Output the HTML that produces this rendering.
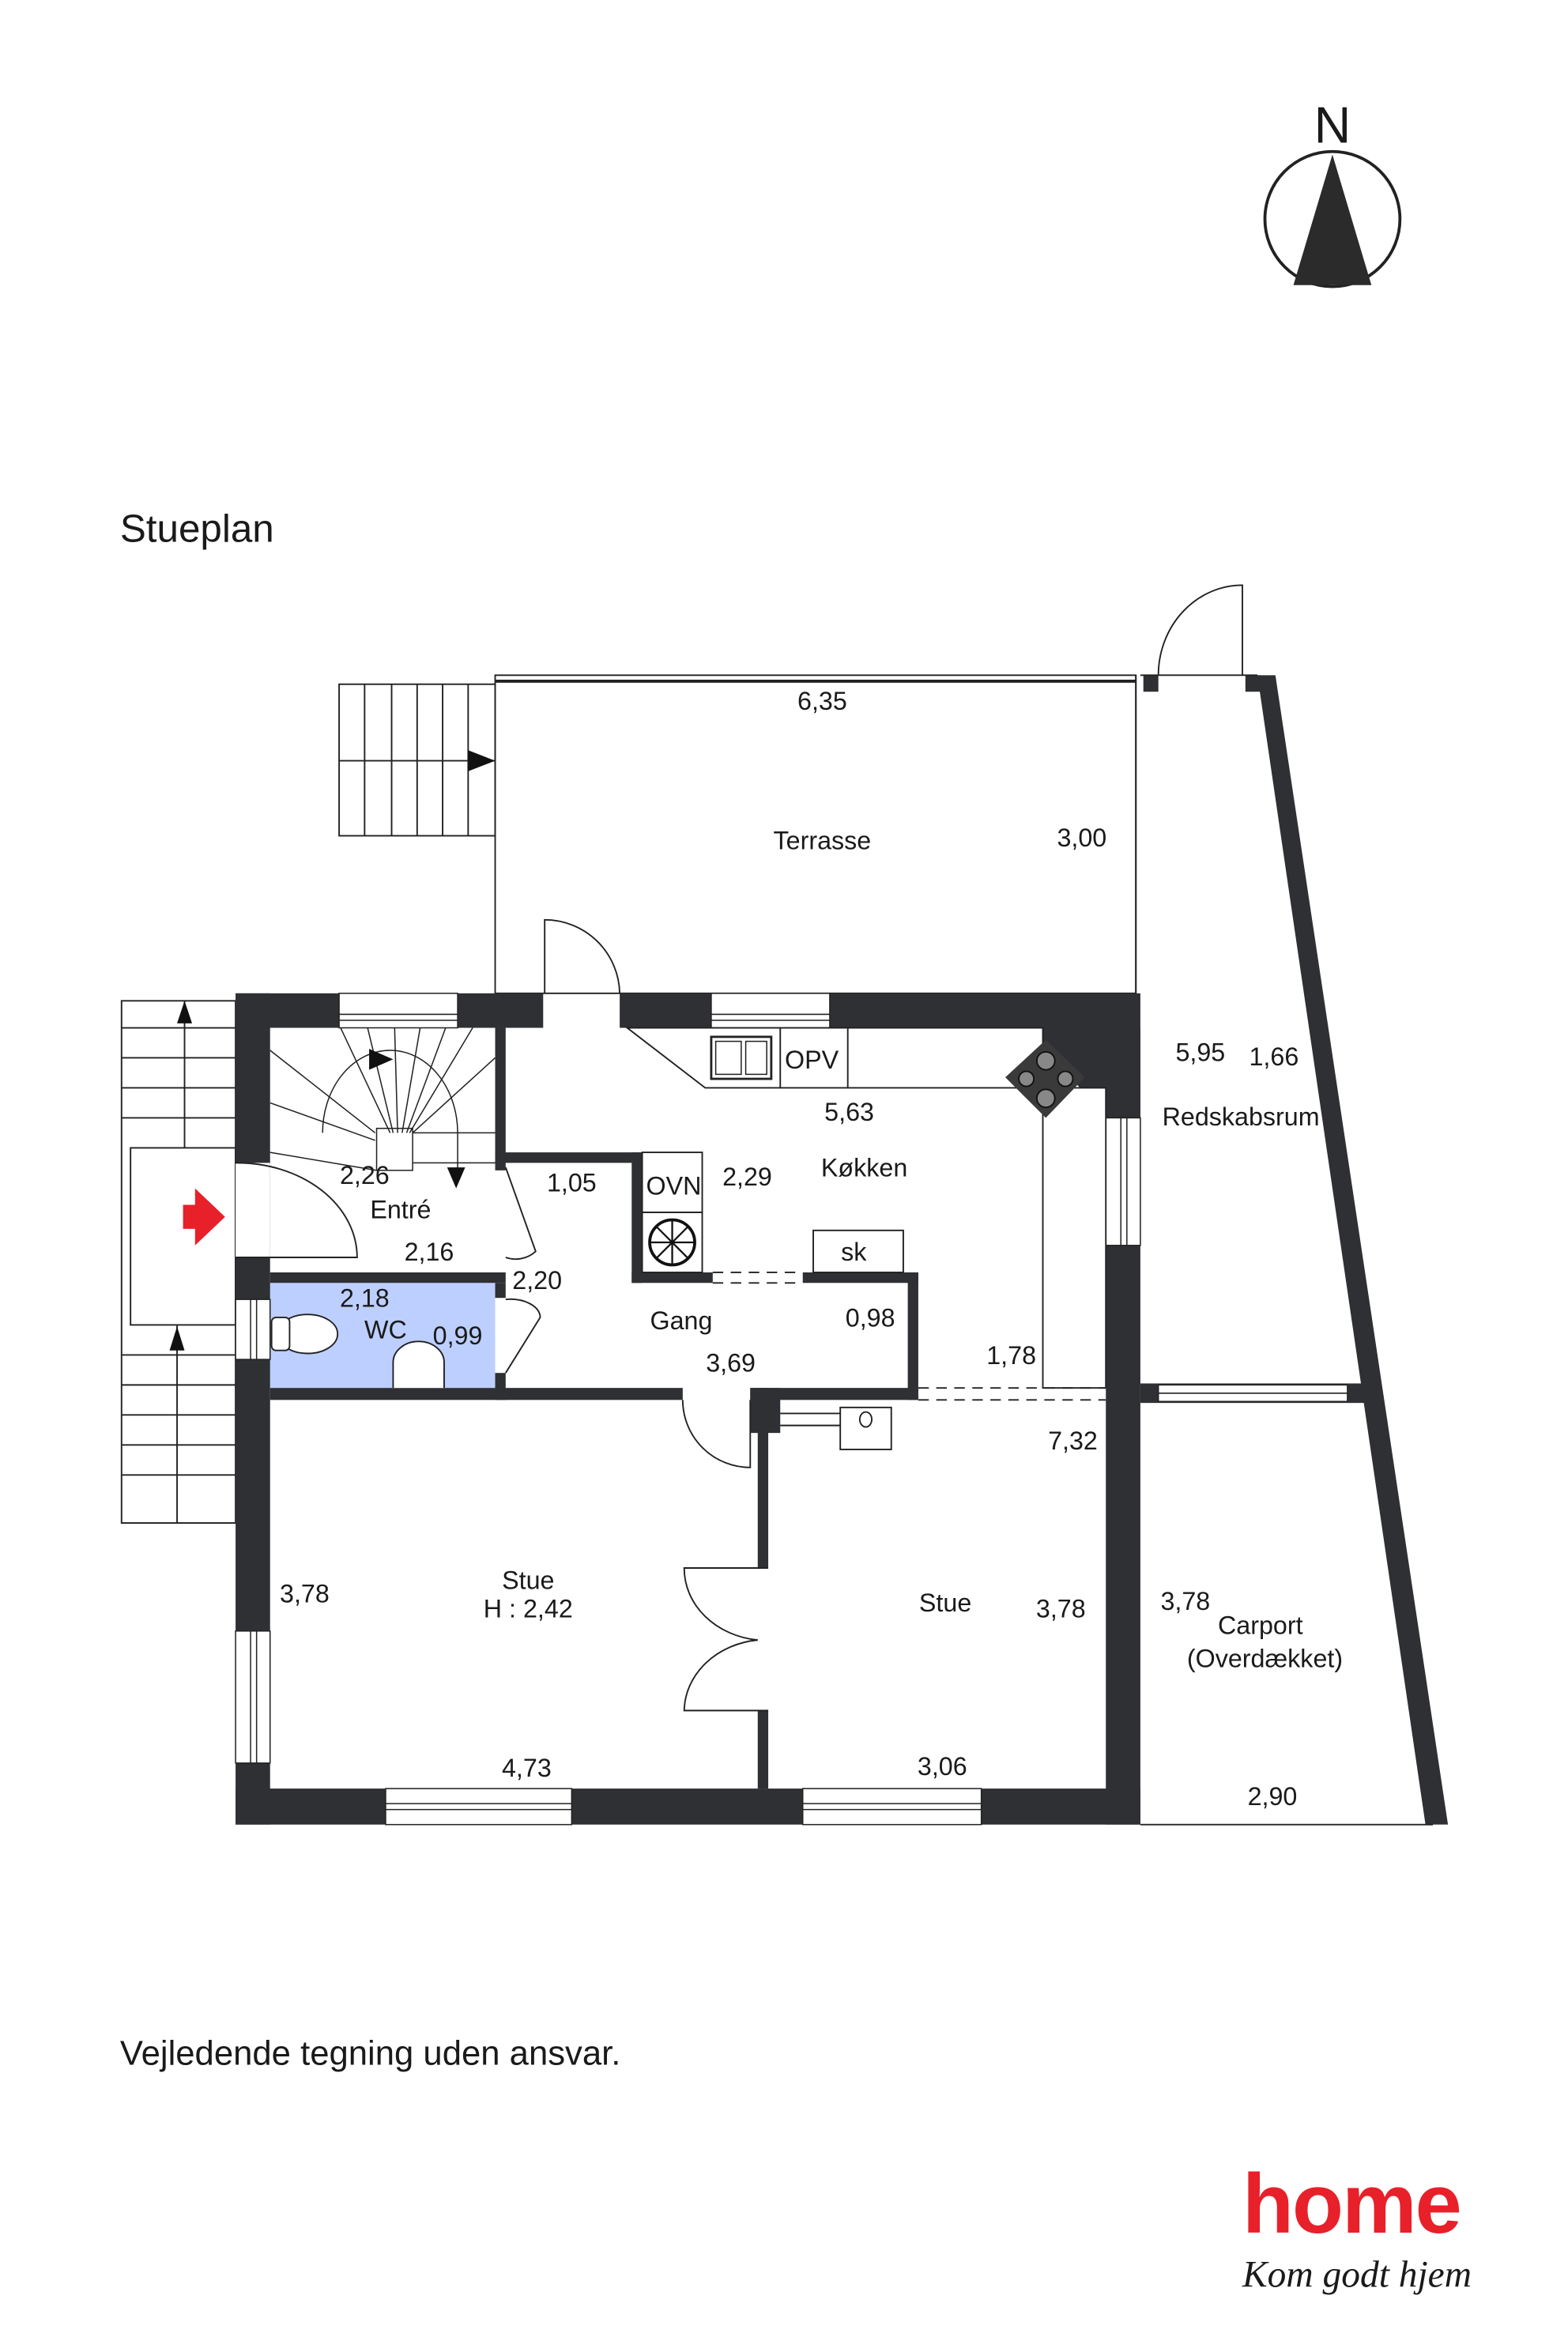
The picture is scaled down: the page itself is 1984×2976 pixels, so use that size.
<!DOCTYPE html>
<html><head><meta charset="utf-8"><style>
html,body{margin:0;padding:0;background:#fff;}
svg{display:block;}
text{font-family:"Liberation Sans",sans-serif;fill:#1a1a1a;}
</style></head><body>
<svg width="1984" height="2976" viewBox="0 0 1045 1567.5" xmlns="http://www.w3.org/2000/svg">
<rect width="1056" height="1584" fill="#fff"/>
<!-- compass -->
<text x="888" y="95" font-size="34" text-anchor="middle">N</text>
<circle cx="888" cy="146" r="45" fill="none" stroke="#222" stroke-width="2"/>
<polygon points="888,103 862,190 914,190" fill="#2b2b2b"/>
<text x="80" y="361" font-size="26">Stueplan</text>

<!-- terrace -->
<rect x="330" y="450" width="427" height="212" fill="none" stroke="#222" stroke-width="1"/>
<line x1="330" y1="454" x2="757" y2="454" stroke="#222" stroke-width="2"/>
<line x1="757" y1="450" x2="757" y2="662" stroke="#222" stroke-width="1"/>
<!-- terrace stairs -->
<g stroke="#222" stroke-width="1" fill="none">
<rect x="226" y="456" width="104" height="101"/>
<line x1="226" y1="507" x2="330" y2="507"/>
<line x1="243" y1="456" x2="243" y2="557"/><line x1="261" y1="456" x2="261" y2="557"/>
<line x1="278" y1="456" x2="278" y2="557"/><line x1="295" y1="456" x2="295" y2="557"/>
<line x1="312" y1="456" x2="312" y2="557"/>
</g>
<polygon points="312,500 330,507 312,514" fill="#111"/>
<!-- terrace door -->
<path d="M363,662 L363,613 A50,50 0 0 1 413,662" fill="none" stroke="#222" stroke-width="1"/>

<!-- redskabsrum / carport outer -->
<polygon points="838,450 850,450 965,1216 950,1216" fill="#2f3033"/>
<rect x="762" y="450" width="10" height="11" fill="#2f3033"/>
<rect x="830" y="450" width="10" height="11" fill="#2f3033"/>
<line x1="760" y1="450" x2="838" y2="450" stroke="#222" stroke-width="1"/>
<path d="M828,450 L828,390 A56,60 0 0 0 772,450" fill="none" stroke="#222" stroke-width="1"/>
<rect x="760" y="922" width="150" height="13" fill="#2f3033"/>
<rect x="772" y="923" width="126" height="11" fill="#fff" stroke="#222" stroke-width="0.8"/>
<line x1="772" y1="928.5" x2="898" y2="928.5" stroke="#222" stroke-width="0.8"/>
<line x1="760" y1="1216" x2="955" y2="1216" stroke="#222" stroke-width="1"/>

<!-- left outside stairs -->
<g stroke="#222" stroke-width="1" fill="none">
<rect x="81" y="667" width="76" height="348"/>
<rect x="87" y="765" width="70" height="118"/>
<line x1="81" y1="685" x2="157" y2="685"/><line x1="81" y1="705" x2="157" y2="705"/>
<line x1="81" y1="725" x2="157" y2="725"/><line x1="81" y1="745" x2="157" y2="745"/>
<line x1="123" y1="667" x2="123" y2="765"/><line x1="118" y1="883" x2="118" y2="1015"/>
<line x1="81" y1="903" x2="157" y2="903"/><line x1="81" y1="923" x2="157" y2="923"/>
<line x1="81" y1="943" x2="157" y2="943"/><line x1="81" y1="963" x2="157" y2="963"/>
<line x1="81" y1="983" x2="157" y2="983"/>
</g>
<polygon points="118,668 128,668 123,683" fill="#111" transform="rotate(180 123 675)"/>
<polygon points="113,884 123,884 118,900" fill="#111" transform="rotate(180 118 892)"/>
<polygon points="122,803 130,803 130,792 150,811 130,830 130,819 122,819" fill="#e8202a"/>

<!-- WC fill -->
<rect x="180" y="855" width="150" height="70" fill="#bccfff"/>

<!-- walls -->
<g fill="#2f3033">
<rect x="157" y="662" width="205" height="23"/>
<rect x="413" y="662" width="347" height="23"/>
<polygon points="685,685 760,685 760,745 737,745"/>
<rect x="157" y="662" width="23" height="554"/>
<rect x="157" y="1192" width="603" height="24"/>
<rect x="737" y="685" width="23" height="531"/>
<rect x="330" y="685" width="7" height="95"/>
<rect x="330" y="768" width="98" height="7"/>
<rect x="421" y="768" width="7" height="87"/>
<rect x="421" y="848" width="54" height="7"/>
<rect x="535" y="848" width="77" height="7"/>
<rect x="605" y="848" width="7" height="85"/>
<rect x="180" y="848" width="157" height="7"/>
<rect x="330" y="855" width="7" height="10"/>
<rect x="330" y="915" width="7" height="18"/>
<rect x="180" y="925" width="275" height="8"/>
<rect x="500" y="925" width="112" height="8"/>
<rect x="500" y="925" width="20" height="30"/>
<rect x="505" y="925" width="7" height="120"/>
<rect x="505" y="1140" width="7" height="52"/>
</g>
<!-- entrance opening -->
<rect x="157" y="775" width="23" height="63" fill="#fff"/>
<path d="M157,775 A80,63 0 0 1 238,838 L157,838" fill="none" stroke="#222" stroke-width="1"/>

<!-- windows -->
<g fill="#fff" stroke="#222" stroke-width="0.8">
<rect x="226" y="662" width="79" height="23"/><rect x="474" y="662" width="79" height="23"/>
<rect x="257" y="1192" width="124" height="24"/><rect x="535" y="1192" width="119" height="24"/>
<rect x="157" y="866" width="23" height="40"/><rect x="157" y="1087" width="23" height="88"/>
<rect x="737" y="745" width="23" height="85"/>
</g>
<g stroke="#222" stroke-width="0.8">
<line x1="226" y1="676" x2="305" y2="676"/><line x1="226" y1="680" x2="305" y2="680"/>
<line x1="474" y1="676" x2="553" y2="676"/><line x1="474" y1="680" x2="553" y2="680"/>
<line x1="257" y1="1202" x2="381" y2="1202"/><line x1="257" y1="1206" x2="381" y2="1206"/>
<line x1="535" y1="1202" x2="654" y2="1202"/><line x1="535" y1="1206" x2="654" y2="1206"/>
<line x1="167" y1="866" x2="167" y2="906"/><line x1="171" y1="866" x2="171" y2="906"/>
<line x1="167" y1="1087" x2="167" y2="1175"/><line x1="171" y1="1087" x2="171" y2="1175"/>
<line x1="747" y1="745" x2="747" y2="830"/><line x1="751" y1="745" x2="751" y2="830"/>
</g>

<!-- inner staircase -->
<g stroke="#222" stroke-width="0.8" fill="none">
<line x1="180" y1="700" x2="250" y2="755"/><line x1="180" y1="735" x2="250" y2="760"/>
<line x1="227" y1="685" x2="260" y2="755"/><line x1="245" y1="685" x2="262" y2="755"/>
<line x1="263" y1="685" x2="265" y2="755"/><line x1="280" y1="685" x2="268" y2="755"/>
<line x1="297" y1="685" x2="271" y2="755"/><line x1="315" y1="685" x2="273" y2="755"/>
<line x1="330" y1="705" x2="275" y2="755"/>
<rect x="251" y="752" width="24" height="28"/>
<line x1="275" y1="755" x2="330" y2="755"/><line x1="275" y1="775" x2="330" y2="775"/>
<line x1="180" y1="768" x2="251" y2="780"/>
<path d="M215,755 A45,55 0 0 1 305,755 L305,785"/>
</g>
<polygon points="246,699 262,706 246,713" fill="#111"/>
<polygon points="298,778 310,778 304,792" fill="#111"/>
<!-- hall doors -->
<path d="M337,778 L357,834 A20,20 0 0 1 337,838" fill="none" stroke="#222" stroke-width="1"/>
<path d="M337,866 A20,12 0 0 1 360,878 L337,915" fill="none" stroke="#222" stroke-width="1"/>
<path d="M455,933 A45,45 0 0 0 500,978 L500,933" fill="none" stroke="#222" stroke-width="1"/>
<path d="M512,1045 L456,1045 A55,48 0 0 0 505,1093 A55,48 0 0 0 456,1140 L512,1140" fill="none" stroke="#222" stroke-width="1"/>

<!-- WC fixtures -->
<ellipse cx="205" cy="889" rx="20" ry="13" fill="#fff" stroke="#222"/>
<rect x="181" y="878" width="12" height="22" rx="3" fill="#fff" stroke="#222"/>
<path d="M262,925 L262,908 A17,14 0 0 1 296,908 L296,925" fill="#fff" stroke="#222"/>

<!-- kitchen -->
<polygon points="418,685 695,685 695,725 470,725" fill="#fff" stroke="#222" stroke-width="1"/>
<line x1="520" y1="685" x2="520" y2="725" stroke="#222"/><line x1="565" y1="685" x2="565" y2="725" stroke="#222"/>
<rect x="474" y="691" width="40" height="28" fill="#fff" stroke="#222" stroke-width="1.5"/>
<rect x="477" y="694" width="17" height="22" fill="#fff" stroke="#222" stroke-width="0.8"/>
<rect x="497" y="694" width="14" height="22" fill="#fff" stroke="#222" stroke-width="0.8"/>
<rect x="695" y="725" width="42" height="200" fill="#fff" stroke="#222"/>
<polygon points="697,693 723,718 697,745 670,718" fill="#3a3a3a"/>
<circle cx="697" cy="707" r="6" fill="#888" stroke="#111"/><circle cx="684" cy="719" r="5" fill="#888" stroke="#111"/>
<circle cx="710" cy="719" r="5" fill="#888" stroke="#111"/><circle cx="697" cy="732" r="6" fill="#888" stroke="#111"/>
<rect x="428" y="768" width="40" height="40" fill="#fff" stroke="#222"/>
<rect x="428" y="808" width="40" height="40" fill="#fff" stroke="#222"/>
<circle cx="448" cy="828" r="15" fill="#fff" stroke="#111" stroke-width="2"/>
<g stroke="#111" stroke-width="1.2"><line x1="433" y1="828" x2="463" y2="828"/><line x1="448" y1="813" x2="448" y2="843"/>
<line x1="437" y1="817" x2="459" y2="839"/><line x1="459" y1="817" x2="437" y2="839"/></g>
<rect x="542" y="820" width="60" height="28" fill="#fff" stroke="#222"/>
<g stroke="#222" stroke-dasharray="7,5" stroke-width="1">
<line x1="475" y1="848" x2="535" y2="848"/><line x1="475" y1="855" x2="535" y2="855"/>
<line x1="612" y1="925" x2="737" y2="925"/><line x1="612" y1="933" x2="737" y2="933"/>
</g>
<rect x="560" y="938" width="34" height="28" fill="#fff" stroke="#222"/>
<ellipse cx="577" cy="946" rx="4" ry="5" fill="none" stroke="#222"/>
<line x1="520" y1="942" x2="560" y2="942" stroke="#222"/><line x1="520" y1="950" x2="560" y2="950" stroke="#222"/>

<!-- labels -->
<g font-size="17" text-anchor="middle">
<text x="548" y="473">6,35</text><text x="548" y="566">Terrasse</text><text x="721" y="564">3,00</text>
<text x="541" y="712">OPV</text><text x="566" y="747">5,63</text><text x="576" y="784">Køkken</text>
<text x="449" y="796">OVN</text><text x="498" y="790">2,29</text><text x="569" y="840">sk</text>
<text x="381" y="794">1,05</text><text x="243" y="789">2,26</text><text x="267" y="812">Entré</text>
<text x="286" y="840">2,16</text><text x="358" y="859">2,20</text>
<text x="243" y="871">2,18</text><text x="257" y="892">WC</text><text x="305" y="896">0,99</text>
<text x="454" y="886">Gang</text><text x="487" y="914">3,69</text><text x="580" y="884">0,98</text>
<text x="674" y="909">1,78</text><text x="715" y="966">7,32</text>
<text x="800" y="707">5,95</text><text x="849" y="710">1,66</text><text x="827" y="750">Redskabsrum</text>
<text x="203" y="1068">3,78</text><text x="352" y="1059">Stue</text><text x="352" y="1078">H : 2,42</text>
<text x="351" y="1184">4,73</text><text x="630" y="1074">Stue</text><text x="707" y="1078">3,78</text>
<text x="628" y="1183">3,06</text><text x="790" y="1073">3,78</text><text x="840" y="1089">Carport</text>
<text x="843" y="1111">(Overdækket)</text><text x="848" y="1203">2,90</text>
</g>
<text x="80" y="1376" font-size="23">Vejledende tegning uden ansvar.</text>
<text x="828" y="1488" font-size="56" font-weight="bold" fill="#e8202a" style="fill:#e8202a;letter-spacing:-1px">home</text>
<text x="828" y="1524" font-size="25" font-style="italic" font-family="Liberation Serif, serif" style="font-family:'Liberation Serif',serif">Kom godt hjem</text>
</svg>
</body></html>
